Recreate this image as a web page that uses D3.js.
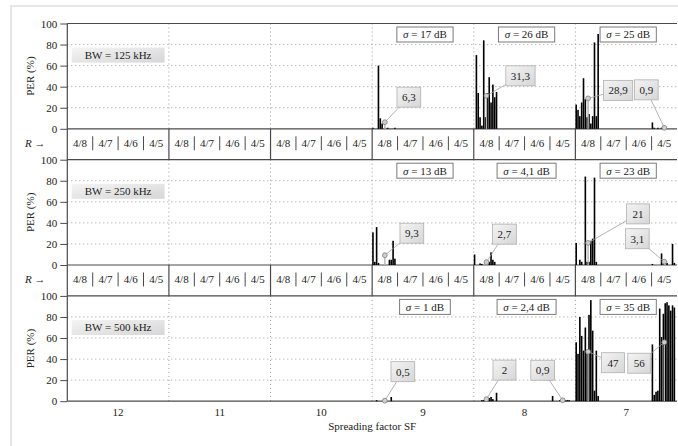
<!DOCTYPE html>
<html>
<head>
<meta charset="utf-8">
<script src="https://cdn.jsdelivr.net/npm/d3@7"></script>
<style>
  body { margin: 0; background: #fff; }
  svg { display: block; }
  text { font-family: "Liberation Serif", "Times New Roman", serif; font-size: 11px; fill: #222; }
</style>
</head>
<body>
<svg id="chart" width="678" height="446"></svg>
<script>
// ---- data ----
const sfLabels = ["12", "11", "10", "9", "8", "7"];
const rateLabels = ["4/8", "4/7", "4/6", "4/5"];
const bwLabels = ["BW = 125 kHz", "BW = 250 kHz", "BW = 500 kHz"];
const yTicks = [0, 20, 40, 60, 80, 100];

// sigma shown above SF 9, 8, 7
const sigmaSF = ["9", "8", "7"];
const sigma125 = ["17 dB", "26 dB", "25 dB"];
const sigma250 = ["13 dB", "4,1 dB", "23 dB"];
const sigma500 = ["1 dB", "2,4 dB", "35 dB"];

// PER (%) of each measurement, grouped by SF and coding rate
const per125 = [
    { sf: "9", rate: "4/8", values: [1, 0, 0, 60, 10, 5, 0, 0, 1, 0, 0, 0, 1, 0] },
    { sf: "8", rate: "4/8", values: [0, 70, 34, 11, 3, 84, 11, 34, 49, 25, 42, 30, 35, 0] },
    { sf: "7", rate: "4/8", values: [23, 18, 12, 25, 48, 28, 11, 14, 5, 12, 82, 12, 90, 0] },
    { sf: "7", rate: "4/5", values: [6, 1, 0, 1, 0, 1, 0, 1, 0, 0, 0, 0, 0, 0] }
];
const per250 = [
    { sf: "9", rate: "4/8", values: [31, 3, 36, 2, 0, 0, 0, 0, 0, 5, 5, 23, 6, 0] },
    { sf: "8", rate: "4/8", values: [10, 0, 0, 1.5, 1, 0, 0, 0, 3, 12, 5, 3, 0, 0] },
    { sf: "7", rate: "4/8", values: [21, 0, 5, 3, 0, 84, 3, 3, 23, 25, 83, 3, 0, 0] },
    { sf: "7", rate: "4/5", values: [1, 0, 0, 0, 0, 11, 2, 0, 2, 0, 0, 20, 2, 0] }
];
const per500 = [
    { sf: "9", rate: "4/8", values: [0, 0, 1, 0, 0, 0, 2, 0, 0, 0, 4, 0, 0, 0] },
    { sf: "8", rate: "4/8", values: [0, 0, 0, 0, 1, 1, 0, 3, 3, 4, 2, 0, 8, 0] },
    { sf: "8", rate: "4/5", values: [0, 5, 0, 0, 0, 1, 1, 2, 1, 1, 1, 0, 0, 0] },
    { sf: "7", rate: "4/8", values: [56, 45, 80, 62, 48, 70, 45, 82, 96, 67, 10, 48, 5, 0] },
    { sf: "7", rate: "4/5", values: [54, 6, 9, 10, 88, 61, 83, 93, 94, 91, 86, 91, 89, 0] }
];

// mean PER labels
const mean125 = [
    { sf: "9", rate: "4/8", label: "6,3" },
    { sf: "8", rate: "4/8", label: "31,3" },
    { sf: "7", rate: "4/8", label: "28,9" },
    { sf: "7", rate: "4/5", label: "0,9" }
];
const mean250 = [
    { sf: "9", rate: "4/8", label: "9,3" },
    { sf: "8", rate: "4/8", label: "2,7" },
    { sf: "7", rate: "4/8", label: "21" },
    { sf: "7", rate: "4/5", label: "3,1" }
];
const mean500 = [
    { sf: "9", rate: "4/8", label: "0,5" },
    { sf: "8", rate: "4/8", label: "2" },
    { sf: "8", rate: "4/5", label: "0,9" },
    { sf: "7", rate: "4/8", label: "47" },
    { sf: "7", rate: "4/5", label: "56" }
];

// ---- layout (callout box offsets from the mean marker, px) ----
const calloutOffset125 = [[24, -25], [34, -20], [30, -8], [-18, -38]];
const calloutOffset250 = [[27, -22], [18, -28], [50, -29], [-27, -23]];
const calloutOffset500 = [[18, -29], [18, -29], [-20, -30], [25, 11], [-25, 21]];

const panels = [
    { bw: bwLabels[0], sigma: sigma125, per: per125, means: mean125, offsets: calloutOffset125 },
    { bw: bwLabels[1], sigma: sigma250, per: per250, means: mean250, offsets: calloutOffset250 },
    { bw: bwLabels[2], sigma: sigma500, per: per500, means: mean500, offsets: calloutOffset500 }
];

const left = 67.3, right = 677;
const panelTop0 = 23.5, panelStep = 136.2, panelH = 105.3;
const axisColor = "#4a4a4a";

const svg = d3.select("#chart");

// outer light frame
svg.append("rect")
    .attr("x", 11).attr("y", 6)
    .attr("width", 700).attr("height", 500)
    .attr("fill", "none")
    .attr("stroke", "#e6e6e6")
    .attr("stroke-width", 2);

// gradients
const defs = svg.append("defs");
const grad = defs.append("linearGradient").attr("id", "boxGrad")
    .attr("x1", "0%").attr("y1", "0%").attr("x2", "100%").attr("y2", "100%");
grad.append("stop").attr("offset", "0%").attr("stop-color", "#f4f4f4");
grad.append("stop").attr("offset", "100%").attr("stop-color", "#d6d6d6");

const x = d3.scaleBand().domain(sfLabels).range([left, right]);
const xr = d3.scaleBand().domain(rateLabels).range([0, x.bandwidth()]);

// helper: measure text width
function textWidth(str) {
    const t = svg.append("text").text(str);
    const w = t.node().getComputedTextLength();
    t.remove();
    return w;
}

panels.forEach((p, i) => {
    const top = panelTop0 + i * panelStep;
    const bottom = top + panelH;
    const y = d3.scaleLinear().domain([0, 100]).range([bottom, top]);
    const g = svg.append("g");

    // horizontal dotted grid
    g.selectAll(".hgrid")
        .data(yTicks.filter(d => d > 0 && d < 100))
        .join("line")
        .attr("x1", left).attr("x2", right)
        .attr("y1", d => y(d)).attr("y2", d => y(d))
        .attr("stroke", "#9a9a9a")
        .attr("stroke-dasharray", "1,3");

    // vertical dotted grid at SF boundaries
    g.selectAll(".vgrid")
        .data(sfLabels.slice(1))
        .join("line")
        .attr("x1", d => x(d)).attr("x2", d => x(d))
        .attr("y1", top).attr("y2", bottom)
        .attr("stroke", "#9a9a9a")
        .attr("stroke-dasharray", "1,3");

    // top and bottom frame lines
    [top, bottom].forEach(yy => {
        g.append("line")
            .attr("x1", left).attr("x2", right)
            .attr("y1", yy).attr("y2", yy)
            .attr("stroke", axisColor).attr("stroke-width", 1.2);
    });

    // y axis
    const yAxis = d3.axisLeft(y).tickValues(yTicks).tickSize(7).tickPadding(3);
    const ya = g.append("g").attr("transform", `translate(${left},0)`).call(yAxis);
    ya.select(".domain").remove();
    ya.selectAll("line").attr("stroke", axisColor);
    ya.selectAll("text")
        .style("font-family", '"Liberation Serif", serif')
        .style("font-size", "11px")
        .attr("fill", "#222");

    g.append("text")
        .attr("transform", `translate(30,${(top + bottom) / 2}) rotate(-90)`)
        .attr("text-anchor", "middle")
        .attr("dy", "0.35em")
        .text("PER (%)");

    // BW label box
    const bwX = x("12") + x.bandwidth() / 2;
    g.append("rect")
        .attr("x", bwX - 46.5).attr("y", y(70) - 7.5)
        .attr("width", 93).attr("height", 15)
        .attr("fill", "url(#boxGrad)");
    g.append("text")
        .attr("x", bwX).attr("y", y(70))
        .attr("dy", "0.35em")
        .attr("text-anchor", "middle")
        .text(p.bw);

    // bars
    p.per.forEach(c => {
        const x0 = x(c.sf) + xr(c.rate);
        const xs = d3.scaleBand()
            .domain(d3.range(c.values.length))
            .range([x0, x0 + xr.bandwidth()])
            .paddingInner(0.12);
        g.append("g").selectAll("rect")
            .data(c.values)
            .join("rect")
            .attr("x", (d, k) => xs(k))
            .attr("width", xs.bandwidth())
            .attr("y", d => y(d))
            .attr("height", d => bottom - y(d))
            .attr("fill", "#000");
    });

    // sigma boxes
    sigmaSF.forEach((sf, k) => {
        const label = p.sigma[k];
        const cx = x(sf) + x.bandwidth() / 2 + 2;
        const w = textWidth("σ = " + label) + 12;
        g.append("rect")
            .attr("x", cx - w / 2).attr("y", top + 3.5)
            .attr("width", w).attr("height", 15)
            .attr("fill", "#fff")
            .attr("stroke", "#7a7a7a");
        const t = g.append("text")
            .attr("x", cx).attr("y", top + 11)
            .attr("dy", "0.35em")
            .attr("text-anchor", "middle");
        t.append("tspan").attr("font-style", "italic").text("σ");
        t.append("tspan").text(" = " + label);
    });

    // mean markers with callouts
    p.means.forEach((m, k) => {
        const val = +m.label.replace(",", ".");
        const mx = x(m.sf) + xr(m.rate) + xr.bandwidth() / 2;
        const my = y(val);
        const [dx, dy] = p.offsets[k];
        const bw = Math.max(23, textWidth(m.label) + 10), bh = 20;
        const bx = mx + dx, by = my + dy;

        // stem
        g.append("line")
            .attr("x1", mx).attr("x2", mx)
            .attr("y1", my).attr("y2", bottom)
            .attr("stroke", "#b5b5b5").attr("stroke-width", 1.4);

        // leader line to box edge
        const vx = mx - bx, vy = my - by;
        const s = Math.min(
            vx !== 0 ? (bw / 2) / Math.abs(vx) : Infinity,
            vy !== 0 ? (bh / 2) / Math.abs(vy) : Infinity);
        g.append("line")
            .attr("x1", mx).attr("y1", my)
            .attr("x2", bx + vx * s).attr("y2", by + vy * s)
            .attr("stroke", "#a0a0a0").attr("stroke-width", 0.8);

        g.append("circle")
            .attr("cx", mx).attr("cy", my).attr("r", 2.4)
            .attr("fill", "#cfcfcf").attr("stroke", "#7d7d7d").attr("stroke-width", 0.8);

        g.append("rect")
            .attr("x", bx - bw / 2).attr("y", by - bh / 2)
            .attr("width", bw).attr("height", bh)
            .attr("fill", "url(#boxGrad)")
            .attr("stroke", "#b0b0b0").attr("stroke-width", 0.8);
        g.append("text")
            .attr("x", bx).attr("y", by)
            .attr("dy", "0.35em")
            .attr("text-anchor", "middle")
            .text(m.label);
    });

    // coding-rate row (below panels 1 and 2)
    if (i < panels.length - 1) {
        const rowTop = bottom, rowBottom = panelTop0 + (i + 1) * panelStep;
        const rowMid = (rowTop + rowBottom) / 2 - 1;
        sfLabels.slice(1).forEach(sf => {
            g.append("line")
                .attr("x1", x(sf)).attr("x2", x(sf))
                .attr("y1", rowTop).attr("y2", rowBottom)
                .attr("stroke", axisColor).attr("stroke-width", 1.2);
        });
        sfLabels.forEach(sf => {
            rateLabels.forEach((r, k) => {
                const cx = x(sf) + xr(r) + xr.bandwidth() / 2;
                g.append("text")
                    .attr("x", cx).attr("y", rowMid)
                    .attr("dy", "0.35em")
                    .attr("text-anchor", "middle")
                    .text(r);
                if (k > 0) {
                    g.append("line")
                        .attr("x1", x(sf) + xr(r)).attr("x2", x(sf) + xr(r))
                        .attr("y1", rowMid - 7).attr("y2", rowMid + 7)
                        .attr("stroke", axisColor);
                }
            });
        });
        const rl = g.append("text").attr("x", 25).attr("y", rowMid).attr("dy", "0.35em");
        rl.append("tspan").attr("font-style", "italic").text("R");
        rl.append("tspan").text(" →");
    } else {
        // SF labels
        g.selectAll(".sf")
            .data(sfLabels)
            .join("text")
            .attr("x", d => x(d) + x.bandwidth() / 2)
            .attr("y", bottom + 11)
            .attr("dy", "0.35em")
            .attr("text-anchor", "middle")
            .text(d => d);
        g.append("text")
            .attr("x", (left + right) / 2)
            .attr("y", bottom + 25)
            .attr("dy", "0.35em")
            .attr("text-anchor", "middle")
            .text("Spreading factor SF");
    }
});

// left axis line through all panels
svg.append("line")
    .attr("x1", left).attr("x2", left)
    .attr("y1", panelTop0).attr("y2", panelTop0 + 2 * panelStep + panelH)
    .attr("stroke", axisColor).attr("stroke-width", 1.2);
</script>
</body>
</html>
